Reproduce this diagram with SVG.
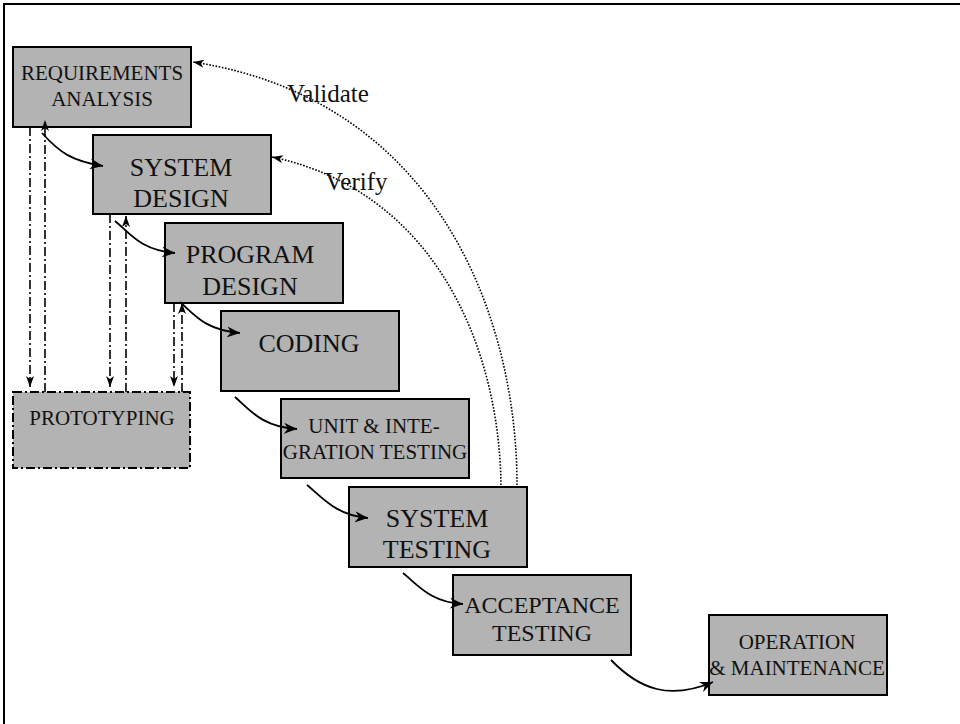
<svg xmlns="http://www.w3.org/2000/svg" width="960" height="724" viewBox="0 0 960 724">
<style>
.box{fill:#b3b3b3;stroke:#000;stroke-width:2}
.proto{fill:#b3b3b3;stroke:#000;stroke-width:2;stroke-dasharray:9 3 2 3}
.t{font-family:"Liberation Serif","Times New Roman",serif;fill:#111;text-anchor:middle}
.lbl{font-family:"Liberation Serif","Times New Roman",serif;fill:#111}
.flow{fill:none;stroke:#000;stroke-width:1.8;marker-end:url(#arr)}
.dd{fill:none;stroke:#000;stroke-width:1.6;stroke-dasharray:9 3 2 3;marker-end:url(#arrs)}
.dot{fill:none;stroke:#000;stroke-width:1.6;stroke-dasharray:1.6 1.6;marker-end:url(#arrd)}
</style>
<defs>
<marker id="arr" markerUnits="userSpaceOnUse" markerWidth="14" markerHeight="12" refX="13" refY="5.5" orient="auto">
<path d="M0,0 L13,5.5 L0,11 L4,5.5 z" fill="#000"/>
</marker>
<marker id="arrs" markerUnits="userSpaceOnUse" markerWidth="12" markerHeight="10" refX="11" refY="4" orient="auto">
<path d="M0,0 L11,4 L0,8 L3,4 z" fill="#000"/>
</marker>
<marker id="arrd" markerUnits="userSpaceOnUse" markerWidth="12" markerHeight="10" refX="11" refY="4" orient="auto">
<path d="M0,0 L11,4 L0,8 L3,4 z" fill="#000"/>
</marker>
</defs>
<rect width="960" height="724" fill="#fff"/>
<path d="M4,724 V4 H960" fill="none" stroke="#000" stroke-width="2"/>

<g id="req">
<rect class="box" x="13" y="47" width="178" height="80"/>
<text class="t" x="102" y="80" font-size="21">REQUIREMENTS</text>
<text class="t" x="102" y="106" font-size="21">ANALYSIS</text>
</g>
<g id="sysdesign">
<rect class="box" x="93" y="135" width="178" height="79"/>
<text class="t" x="181" y="176" font-size="26">SYSTEM</text>
<text class="t" x="181" y="207" font-size="26">DESIGN</text>
</g>
<g id="progdesign">
<rect class="box" x="165" y="223" width="178" height="80"/>
<text class="t" x="250" y="263" font-size="26">PROGRAM</text>
<text class="t" x="250" y="295" font-size="26">DESIGN</text>
</g>
<g id="coding">
<rect class="box" x="221" y="311" width="178" height="80"/>
<text class="t" x="309" y="352" font-size="26">CODING</text>
</g>
<g id="prototyping">
<rect class="proto" x="13" y="392" width="177" height="76"/>
<text class="t" x="102" y="425" font-size="21">PROTOTYPING</text>
</g>
<g id="unittest">
<rect class="box" x="281" y="399" width="188" height="79"/>
<text class="t" x="374" y="433" font-size="21">UNIT &amp; INTE-</text>
<text class="t" x="375" y="459" font-size="21">GRATION TESTING</text>
</g>
<g id="systest">
<rect class="box" x="349" y="487" width="178" height="80"/>
<text class="t" x="437" y="527" font-size="26">SYSTEM</text>
<text class="t" x="437" y="558" font-size="26">TESTING</text>
</g>
<g id="acceptance">
<rect class="box" x="453" y="575" width="178" height="80"/>
<text class="t" x="542" y="613" font-size="24">ACCEPTANCE</text>
<text class="t" x="542" y="641" font-size="24">TESTING</text>
</g>
<g id="operation">
<rect class="box" x="709" y="615" width="178" height="80"/>
<text class="t" x="797" y="649" font-size="21">OPERATION</text>
<text class="t" x="797" y="675" font-size="21">&amp; MAINTENANCE</text>
</g>

<g id="connectors">
<path class="flow" d="M42,133 C60,153 72,161 103,166"/>
<path class="flow" d="M115,221 C130,233 140,250 175,253"/>
<path class="flow" d="M180,302 C195,315 205,330 240,333"/>
<path class="flow" d="M235,397 C250,410 262,427 297,429"/>
<path class="flow" d="M307,485 C322,497 335,515 368,518"/>
<path class="flow" d="M403,573 C418,585 430,602 463,604"/>
<path class="flow" d="M611,660 C640,690 670,700 713,682"/>

<path class="dd" d="M30,127 V387"/>
<path class="dd" d="M45,392 V120"/>
<path class="dd" d="M110,214 V387"/>
<path class="dd" d="M126,392 V216"/>
<path class="dd" d="M174,303 V387"/>
<path class="dd" d="M182,392 V303"/>

<path class="dot" d="M517,485 C517,320 440,100 193,62"/>
<path class="dot" d="M501,485 C499,340 430,190 272,157"/>
<text class="lbl" x="287" y="102" font-size="25">Validate</text>
<text class="lbl" x="325" y="190" font-size="25">Verify</text>
</g>
</svg>
